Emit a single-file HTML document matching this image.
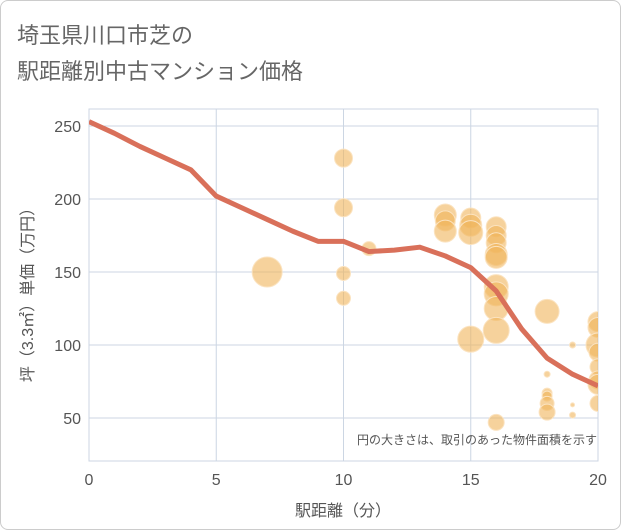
<!DOCTYPE html><html><head><meta charset="utf-8"><style>
body{margin:0;background:#fff;font-family:"Liberation Sans","Noto Sans CJK JP",sans-serif}
#wrap{position:relative;width:619px;height:528px;border:1px solid #ccc;border-radius:8px;overflow:hidden}
</style></head><body>
<div id="wrap">
<svg width="621" height="530" id="svg">
<defs><clipPath id="pc"><rect x="88" y="100" width="509" height="360"/></clipPath></defs>
<text x="16" y="42" font-size="22" fill="#666" font-family="Liberation Sans,Noto Sans CJK JP,sans-serif">埼玉県川口市芝の</text>
<text x="16" y="78" font-size="22" fill="#666" font-family="Liberation Sans,Noto Sans CJK JP,sans-serif">駅距離別中古マンション価格</text>
<g id="grid"></g><g id="bub" clip-path="url(#pc)"></g><g id="ln" clip-path="url(#pc)"></g><g id="ax"></g>
<text x="596" y="443" font-size="12" fill="#555" text-anchor="end" font-family="Liberation Sans,Noto Sans CJK JP,sans-serif">円の大きさは、取引のあった物件面積を示す</text>
<text x="342" y="515" font-size="16" fill="#555" text-anchor="middle" font-family="Liberation Sans,Noto Sans CJK JP,sans-serif">駅距離（分）</text>
<text transform="translate(32,290) rotate(-90)" font-size="16" fill="#555" text-anchor="middle" font-family="Liberation Sans,Noto Sans CJK JP,sans-serif">坪（3.3㎡）単価（万円）</text>
</svg></div>
<script>
const xTicks=[0,5,10,15,20];
const yTicks=[50,100,150,200,250];
const lineX=[0,1,2,3,4,5,6,7,8,9,10,11,12,13,14,15,16,17,18,19,20];
const lineY=[253,245,236,228,220,202,194,186,178,171,171,164,165,167,161,153,137,111,91,80,72];
const bubX=[7,10,10,10,10,11,14,14,14,15,15,15,15,16,16,16,16,16,16,16,16,16,16,18,18,18,18,18,18,19,19,19,20,20,20,20,20,20,20,20];
const bubY=[150,228,194,149,132,166,189,185,178,187,182,177,104,181,175,170,162,160,140,135,125,110,47,123,80,67,65,60,54,100,59,52,116,112,100,95,85,76,73,60];
const bubR=[15,9,9,7,7,7,11,10,11,10,11,12,13,10,10,10,11,11,12,12,12,13,8,12,3,5,5,7,8,3,2,3,10,10,12,9,8,9,10,8];
const X=v=>88+v*25.45, Y=v=>417-(v-50)*1.46;
const NS="http://www.w3.org/2000/svg";
function mk(p,t,a){const e=document.createElementNS(NS,t);for(const k in a)e.setAttribute(k,a[k]);document.getElementById(p).appendChild(e);return e;}
mk('grid','rect',{x:88,y:108,width:509,height:352,fill:'none',stroke:'#ccd6e3'});
xTicks.forEach(t=>{const l=mk('grid','line',{x1:X(t),x2:X(t),y1:108,y2:460,stroke:'#ccd6e3'});


const s=mk('ax','text',{x:X(t),y:484,'font-size':16,fill:'#555','text-anchor':'middle'});s.textContent=t;

});
yTicks.forEach(t=>{const l=mk('grid','line',{x1:88,x2:597,y1:Y(t),y2:Y(t),stroke:'#ccd6e3'});


const s=mk('ax','text',{x:80,y:Y(t)+6,'font-size':16,fill:'#555','text-anchor':'end'});s.textContent=t;

});
bubX.forEach((x,i)=>{const c=mk('bub','circle',{cx:X(x),cy:Y(bubY[i]),r:bubR[i],fill:'rgba(240,180,90,0.6)',stroke:'#fbe3c0','stroke-width':1});

});
const p=mk('ln','polyline',{points:lineX.map((x,i)=>X(x)+','+Y(lineY[i])).join(' '),fill:'none',stroke:'#d9705a','stroke-width':5,'stroke-linejoin':'round'});


</script></body></html>
